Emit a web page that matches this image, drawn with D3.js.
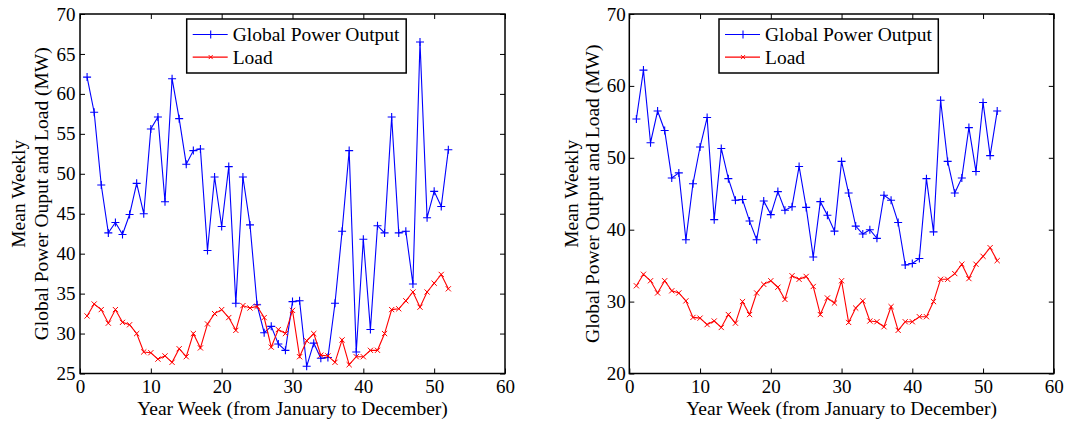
<!DOCTYPE html>
<html>
<head>
<meta charset="utf-8">
<script src="https://cdn.jsdelivr.net/npm/d3@7"></script>
<style>
  body { margin: 0; background: #fff; }
  svg { display: block; font-family: "Liberation Serif", "Times New Roman", serif; }
  text { font-family: "Liberation Serif", "Times New Roman", serif; }
</style>
</head>
<body>
<svg id="chart" width="1065" height="421"></svg>
<script>
// week numbers 1..52
var weeks = d3.range(1, 53);

// left panel
var leftPower = [62.1, 57.7, 48.6, 42.6, 43.9, 42.4, 44.9, 48.8, 45.0, 55.6,
  57.1, 46.5, 61.9, 56.9, 51.2, 52.9, 53.1, 40.4, 49.6, 43.4,
  50.9, 33.8, 49.6, 43.6, 33.6, 30.1, 30.9, 28.7, 27.9, 34.0,
  34.1, 25.9, 28.8, 26.9, 27.0, 33.8, 42.8, 52.9, 27.7, 41.8,
  30.5, 43.5, 42.6, 57.1, 42.6, 42.8, 36.2, 66.5, 44.5, 47.8,
  45.9, 53.0];
var leftLoad = [32.2, 33.7, 33.0, 31.3, 33.0, 31.4, 31.1, 30.0, 27.7, 27.6,
  26.8, 27.2, 26.4, 28.1, 27.1, 30.0, 28.2, 31.2, 32.5, 33.0,
  32.0, 30.4, 33.5, 33.2, 33.4, 32.0, 28.3, 30.5, 30.0, 32.9,
  27.1, 29.1, 30.0, 27.3, 27.2, 26.4, 29.2, 26.1, 27.1, 27.1,
  27.9, 27.9, 30.0, 33.0, 33.1, 34.1, 35.2, 33.3, 35.2, 36.3,
  37.4, 35.6];

// right panel
var rightPower = [55.4, 62.2, 52.1, 56.5, 53.8, 47.2, 47.9, 38.6, 46.4, 51.5,
  55.6, 41.4, 51.3, 47.1, 44.1, 44.2, 41.2, 38.6, 44.0, 42.1,
  45.3, 42.7, 43.2, 48.8, 43.1, 36.2, 43.9, 42.0, 39.8, 49.5,
  45.1, 40.5, 39.4, 40.0, 38.8, 44.8, 44.1, 41.0, 35.1, 35.3,
  36.0, 47.1, 39.7, 58.0, 49.5, 45.1, 47.2, 54.2, 48.1, 57.7,
  50.3, 56.5];
var rightLoad = [32.2, 33.8, 32.9, 31.2, 32.9, 31.5, 31.2, 30.1, 27.8, 27.7,
  26.8, 27.3, 26.4, 28.2, 27.0, 30.0, 28.2, 31.2, 32.4, 32.9,
  32.0, 30.3, 33.6, 33.1, 33.5, 32.1, 28.2, 30.5, 29.8, 32.9,
  27.1, 29.1, 30.1, 27.3, 27.2, 26.5, 29.3, 26.0, 27.2, 27.2,
  27.9, 27.9, 30.0, 33.1, 33.1, 33.9, 35.2, 33.2, 35.2, 36.3,
  37.5, 35.7];

var xTicks = [0, 10, 20, 30, 40, 50, 60];
var leftYTicks = [25, 30, 35, 40, 45, 50, 55, 60, 65, 70];
var rightYTicks = [20, 30, 40, 50, 60, 70];

var seriesNames = ["Global Power Output", "Load"];
var xLabel = "Year Week (from January to December)";
var leftYLabel = ["Mean Weekly", "Global Power Ouput and Load (MW)"];
var rightYLabel = ["Mean Weekly", "Global Power Output and Load (MW)"];

var svg = d3.select("#chart");

function drawPanel(opt) {
  var g = svg.append("g").attr("transform", "translate(" + opt.left + "," + opt.top + ")");
  var w = opt.width, h = opt.height;

  var x = d3.scaleLinear().domain([0, 60]).range([0, w]);
  var y = d3.scaleLinear().domain(opt.yDomain).range([h, 0]);

  // axes, matlab style ticks pointing inward on all sides
  var fs = "19px", lfs = "19.5px";
  var bottom = g.append("g").attr("transform", "translate(0," + h + ")")
    .call(d3.axisBottom(x).tickValues(xTicks).tickSizeInner(-5).tickSizeOuter(0).tickPadding(6));
  var top = g.append("g")
    .call(d3.axisTop(x).tickValues(xTicks).tickSizeInner(-5).tickSizeOuter(0).tickFormat(""));
  var leftAx = g.append("g")
    .call(d3.axisLeft(y).tickValues(opt.yTicks).tickSizeInner(-5).tickSizeOuter(0).tickPadding(opt.yPad));
  var rightAx = g.append("g").attr("transform", "translate(" + w + ",0)")
    .call(d3.axisRight(y).tickValues(opt.yTicks).tickSizeInner(-5).tickSizeOuter(0).tickFormat(""));

  [bottom, top, leftAx, rightAx].forEach(function(a) {
    a.attr("font-family", null);
    a.select(".domain").remove();
    a.selectAll("line").attr("stroke", "#000").attr("stroke-width", 1);
    a.selectAll("text").attr("fill", "#000").style("font-size", fs);
  });

  g.append("rect").attr("width", w).attr("height", h)
    .attr("fill", "none").attr("stroke", "#000").attr("stroke-width", 1.5);

  var line = d3.line().x(function(d, i) { return x(weeks[i]); }).y(function(d) { return y(d); });

  // power (blue, + markers)
  g.append("path").datum(opt.power).attr("d", line)
    .attr("fill", "none").attr("stroke", "#0000ff").attr("stroke-width", 1.1);
  g.append("g").selectAll("path").data(opt.power).join("path")
    .attr("d", function(d, i) {
      var cx = x(weeks[i]), cy = y(d), s = 4;
      return "M" + (cx - s) + "," + cy + "H" + (cx + s) + "M" + cx + "," + (cy - s) + "V" + (cy + s);
    })
    .attr("stroke", "#0000ff").attr("stroke-width", 1.1);

  // load (red, x markers)
  g.append("path").datum(opt.load).attr("d", line)
    .attr("fill", "none").attr("stroke", "#ff0000").attr("stroke-width", 1.1);
  g.append("g").selectAll("path").data(opt.load).join("path")
    .attr("d", function(d, i) {
      var cx = x(weeks[i]), cy = y(d), s = 2.6;
      return "M" + (cx - s) + "," + (cy - s) + "L" + (cx + s) + "," + (cy + s) +
        "M" + (cx - s) + "," + (cy + s) + "L" + (cx + s) + "," + (cy - s);
    })
    .attr("stroke", "#ff0000").attr("stroke-width", 1);

  // labels
  g.append("text").attr("x", w / 2).attr("y", h + 41.5)
    .attr("text-anchor", "middle").style("font-size", lfs).text(xLabel);

  var yl = g.append("text").attr("transform", "translate(" + opt.ylabelX + "," + (h / 2) + ") rotate(-90)")
    .attr("text-anchor", "middle").style("font-size", lfs);
  yl.append("tspan").attr("x", 0).attr("dy", 0).text(opt.yLabel[0]);
  yl.append("tspan").attr("x", 0).attr("dy", opt.ylabelGap).text(opt.yLabel[1]);

  // legend
  var lg = g.append("g").attr("transform", "translate(" + opt.legendX + ",5)");
  lg.append("rect").attr("width", opt.legendW).attr("height", 54)
    .attr("fill", "#fff").attr("stroke", "#000").attr("stroke-width", 1.5);
  var colors = ["#0000ff", "#ff0000"];
  seriesNames.forEach(function(name, i) {
    var ly = 15.5 + i * 22.6;
    lg.append("line").attr("x1", 6).attr("x2", 41).attr("y1", ly).attr("y2", ly)
      .attr("stroke", colors[i]).attr("stroke-width", 1.1);
    if (i === 0) {
      lg.append("path").attr("d", "M20," + ly + "H28M24," + (ly - 4) + "V" + (ly + 4))
        .attr("stroke", colors[i]).attr("stroke-width", 1.1);
    } else {
      lg.append("path").attr("d", "M22," + (ly - 2) + "L26," + (ly + 2) + "M22," + (ly + 2) + "L26," + (ly - 2))
        .attr("stroke", colors[i]).attr("stroke-width", 1);
    }
    lg.append("text").attr("x", 46).attr("y", ly).attr("dy", "0.35em")
      .style("font-size", lfs).text(name);
  });
}

drawPanel({
  left: 80, top: 14, width: 425, height: 359.5,
  yDomain: [25, 70], yTicks: leftYTicks, yPad: 4.5,
  power: leftPower, load: leftLoad,
  yLabel: leftYLabel, ylabelX: -55.5, ylabelGap: 23,
  legendX: 106.7, legendW: 219.5
});

drawPanel({
  left: 629.3, top: 14, width: 424.5, height: 359.5,
  yDomain: [20, 70], yTicks: rightYTicks, yPad: 3.5,
  power: rightPower, load: rightLoad,
  yLabel: rightYLabel, ylabelX: -51, ylabelGap: 21,
  legendX: 89.7, legendW: 219.3
});
</script>
</body>
</html>
